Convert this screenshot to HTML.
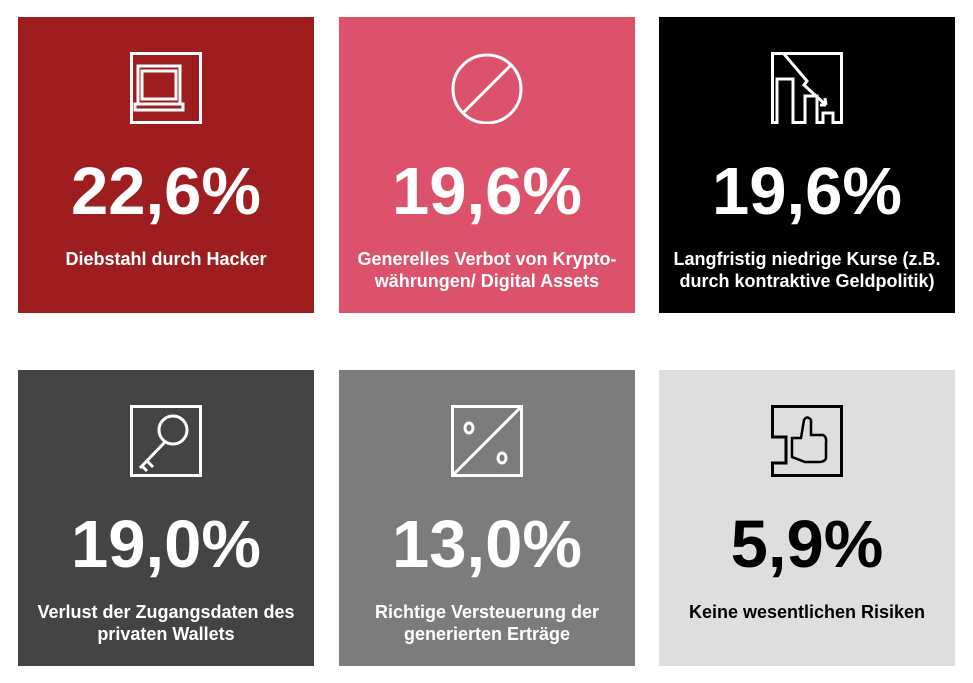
<!DOCTYPE html>
<html><head><meta charset="utf-8"><style>
body{margin:0;width:973px;height:683px;background:#fff;position:relative;overflow:hidden;font-family:"Liberation Sans",Arial,sans-serif}
.t{position:absolute;width:296px;height:296px;color:#fff;text-align:center}
.t svg{position:absolute;left:112px;top:35px}
.p{position:absolute;left:0;right:0;top:140px;font-size:67px;font-weight:bold;line-height:70px}
.l{position:absolute;left:0;right:0;top:231px;font-size:18px;font-weight:bold;line-height:22px}
</style></head><body>
<div class="t" style="left:18px;top:17px;background:#9e1e20">
<svg width="72" height="72" viewBox="0 0 72 72" fill="none" stroke="#fff" stroke-width="3"><rect x="1.5" y="1.5" width="69" height="69"/><rect x="8" y="14" width="42" height="38"/><rect x="12" y="19" width="34" height="28"/><rect x="5" y="52" width="48" height="6"/></svg>
<div class="p">22,6%</div><div class="l">Diebstahl durch Hacker</div></div>
<div class="t" style="left:339px;top:17px;background:#dc526b">
<svg width="72" height="72" viewBox="0 0 72 72" fill="none" stroke="#fff" stroke-width="3"><ellipse cx="36" cy="37" rx="34" ry="34"/><line x1="13" y1="60" x2="59" y2="14"/></svg>
<div class="p">19,6%</div><div class="l">Generelles Verbot von Krypto-<br>währungen/ Digital Assets</div></div>
<div class="t" style="left:659px;top:17px;background:#000">
<svg width="72" height="72" viewBox="0 0 72 72" fill="none" stroke="#fff" stroke-width="3"><path d="M1.5 70.5V1.5H70.5V70.5H62V61H52V70.5H46V44H34V70.5H22V27H6V70.5Z"/><path d="M13 2L36 29L33 33L55 53M55 53L49 53M55 53L54 46"/></svg>
<div class="p">19,6%</div><div class="l">Langfristig niedrige Kurse (z.B.<br>durch kontraktive Geldpolitik)</div></div>
<div class="t" style="left:18px;top:370px;background:#444">
<svg width="72" height="72" viewBox="0 0 72 72" fill="none" stroke="#fff" stroke-width="3"><rect x="1.5" y="1.5" width="69" height="69"/><circle cx="43" cy="25" r="14"/><path d="M35 37L10 63M17 56L23 62M12 61L17 66"/></svg>
<div class="p">19,0%</div><div class="l">Verlust der Zugangsdaten des<br>privaten Wallets</div></div>
<div class="t" style="left:339px;top:370px;background:#7c7c7c">
<svg width="72" height="72" viewBox="0 0 72 72" fill="none" stroke="#fff" stroke-width="3"><rect x="1.5" y="1.5" width="69" height="69"/><line x1="3" y1="69" x2="69" y2="3"/><ellipse cx="18" cy="23" rx="4" ry="5"/><ellipse cx="51" cy="53" rx="4" ry="5"/></svg>
<div class="p">13,0%</div><div class="l">Richtige Versteuerung der<br>generierten Erträge</div></div>
<div class="t" style="left:659px;top:370px;background:#dedede;color:#000">
<svg width="72" height="72" viewBox="0 0 72 72" fill="none" stroke="#000" stroke-width="3"><path d="M1.5 1.5H70.5V70.5H1.5V58H15V32H1.5Z"/><path d="M21 33H30L33 15Q36 10 40 15V30H52Q56 32 55 38V53Q54 57 48 57H34L21 52Z" stroke-width="2.5"/></svg>
<div class="p">5,9%</div><div class="l">Keine wesentlichen Risiken</div></div>
</body></html>
